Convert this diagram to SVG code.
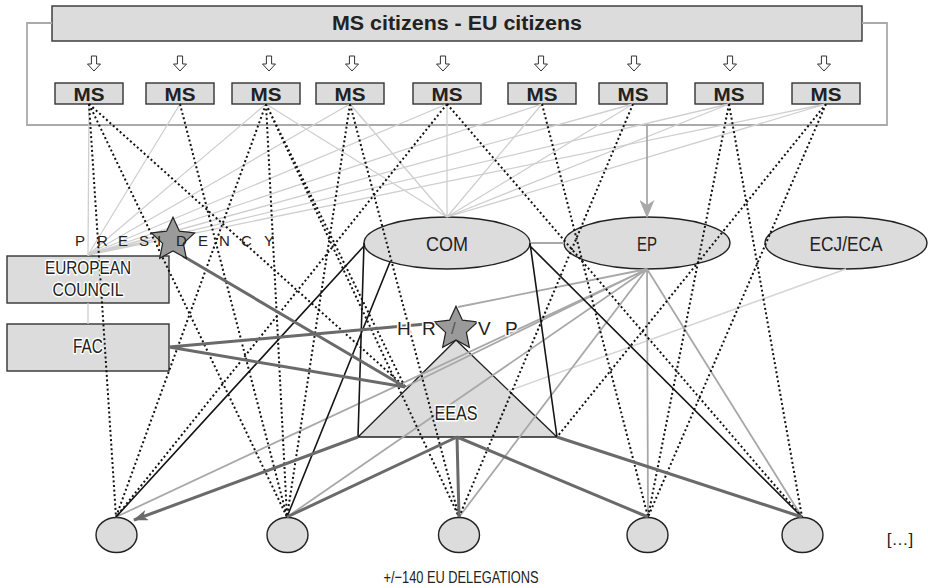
<svg xmlns="http://www.w3.org/2000/svg" xmlns:xlink="http://www.w3.org/1999/xlink" width="928" height="588" viewBox="0 0 928 588">
<style>
.box{fill:#dcdcdc;stroke:#333;stroke-width:1.4}
.nd{fill:#dcdcdc;stroke:#222;stroke-width:1.4}
.star{fill:#9a9a9a;stroke:#222;stroke-width:1.2}
.lg{stroke:#cfcfcf;stroke-width:1.3;fill:none}
.mg{stroke:#a8a8a8;stroke-width:1.8;fill:none}
.xg{stroke:#d6d6d6;stroke-width:1.6;fill:none}
.bk{stroke:#151515;stroke-width:1.6;fill:none}
.dg{stroke:#6a6a6a;stroke-width:3;fill:none}
.dt{stroke:#111;stroke-width:2;stroke-dasharray:2 2.6;fill:none}
.br{stroke:#aaa;stroke-width:1.8;fill:none}
text{font-family:"Liberation Sans",Arial,sans-serif;fill:#222}
.b{font-weight:bold}
.h{stroke:#fff;stroke-width:3;paint-order:stroke;stroke-linejoin:round}
</style>
<defs>
<polygon id="star5" points="0,-22.7 6.41,-8.82 21.59,-7.01 10.37,3.37 13.34,18.36 0,10.9 -13.34,18.36 -10.37,3.37 -21.59,-7.01 -6.41,-8.82"/>
<path id="harrow" d="M-2.6,0 H2.6 V8 H6.5 L0,15 L-6.5,8 H-2.6 Z" fill="#fff" stroke="#333" stroke-width="1"/>
<marker id="ahd" markerUnits="userSpaceOnUse" viewBox="0 0 15 11" refX="14" refY="5.5" markerWidth="15" markerHeight="11" orient="auto">
<path d="M0,0 L15,5.5 L0,11 L4,5.5 Z" fill="#6a6a6a"/>
</marker>
<marker id="ahg" markerUnits="userSpaceOnUse" viewBox="0 0 18 15" refX="17" refY="7.5" markerWidth="18" markerHeight="15" orient="auto">
<path d="M0,0 L18,7.5 L0,15 L5,7.5 Z" fill="#a8a8a8"/>
</marker>
</defs>

<!-- nodes (shapes) -->
<g id="banner"><rect class="box" x="52" y="6" width="810" height="35"/></g>
<g id="bracket"><path class="br" d="M52,23 H27 V125 H887 V23 H862"/></g>
<g id="citizen-arrows">
<use xlink:href="#harrow" x="94" y="56"/>
<use xlink:href="#harrow" x="180" y="56"/>
<use xlink:href="#harrow" x="269" y="56"/>
<use xlink:href="#harrow" x="352" y="56"/>
<use xlink:href="#harrow" x="443" y="56"/>
<use xlink:href="#harrow" x="541" y="56"/>
<use xlink:href="#harrow" x="634" y="56"/>
<use xlink:href="#harrow" x="730" y="56"/>
<use xlink:href="#harrow" x="824" y="56"/>
</g>
<g id="ms1"><rect class="box" x="55" y="83" width="68" height="21"/><text class="b" x="89" y="100.5" font-size="19" text-anchor="middle" textLength="31" lengthAdjust="spacingAndGlyphs">MS</text></g>
<g id="ms2"><rect class="box" x="146" y="83" width="68" height="21"/><text class="b" x="180" y="100.5" font-size="19" text-anchor="middle" textLength="31" lengthAdjust="spacingAndGlyphs">MS</text></g>
<g id="ms3"><rect class="box" x="232" y="83" width="68" height="21"/><text class="b" x="266" y="100.5" font-size="19" text-anchor="middle" textLength="31" lengthAdjust="spacingAndGlyphs">MS</text></g>
<g id="ms4"><rect class="box" x="316" y="83" width="68" height="21"/><text class="b" x="350" y="100.5" font-size="19" text-anchor="middle" textLength="31" lengthAdjust="spacingAndGlyphs">MS</text></g>
<g id="ms5"><rect class="box" x="413" y="83" width="68" height="21"/><text class="b" x="447" y="100.5" font-size="19" text-anchor="middle" textLength="31" lengthAdjust="spacingAndGlyphs">MS</text></g>
<g id="ms6"><rect class="box" x="508" y="83" width="68" height="21"/><text class="b" x="542" y="100.5" font-size="19" text-anchor="middle" textLength="31" lengthAdjust="spacingAndGlyphs">MS</text></g>
<g id="ms7"><rect class="box" x="599" y="83" width="68" height="21"/><text class="b" x="633" y="100.5" font-size="19" text-anchor="middle" textLength="31" lengthAdjust="spacingAndGlyphs">MS</text></g>
<g id="ms8"><rect class="box" x="695" y="83" width="68" height="21"/><text class="b" x="729" y="100.5" font-size="19" text-anchor="middle" textLength="31" lengthAdjust="spacingAndGlyphs">MS</text></g>
<g id="ms9"><rect class="box" x="792" y="83" width="68" height="21"/><text class="b" x="826" y="100.5" font-size="19" text-anchor="middle" textLength="31" lengthAdjust="spacingAndGlyphs">MS</text></g>

<g id="european-council"><rect class="box" x="7" y="256" width="162" height="47"/></g>
<g id="fac"><rect class="box" x="7" y="324" width="162" height="47"/></g>
<g id="com"><ellipse class="nd" cx="447" cy="243" rx="83" ry="26"/></g>
<g id="ep"><ellipse class="nd" cx="647" cy="243" rx="83" ry="26"/></g>
<g id="ecj-eca"><ellipse class="nd" cx="846" cy="243" rx="81" ry="26"/></g>
<g id="eeas"><polygon class="nd" points="456,340 557,437 358,437"/></g>
<g id="del1"><ellipse class="nd" cx="116.5" cy="535" rx="20.5" ry="17.5"/></g>
<g id="del2"><ellipse class="nd" cx="287.5" cy="535" rx="20.5" ry="17.5"/></g>
<g id="del3"><ellipse class="nd" cx="459" cy="535" rx="20.5" ry="17.5"/></g>
<g id="del4"><ellipse class="nd" cx="647.5" cy="535" rx="20.5" ry="17.5"/></g>
<g id="del5"><ellipse class="nd" cx="802.5" cy="535" rx="20.5" ry="17.5"/></g>

<!-- connectors -->
<g id="connectors">
<g id="light">
<path class="lg" d="M88,255 L180,104 M88,255 L266,104 M88,255 L350,104 M88,255 L447,104 M88,255 L542,104 M88,255 L633,104 M88,255 L729,104 M88,255 L826,104"/>
<path class="lg" d="M447,217 L266,104 M447,217 L350,104 M447,217 L447,104 M447,217 L542,104 M447,217 L633,104 M447,217 L729,104 M447,217 L826,104"/>
<path class="lg" d="M89,104 L88,256 M88,303 L88,324"/>
<path class="xg" d="M846,269 L508,391"/>
</g>
<g id="ep-links">
<path class="mg" d="M647,269 L458,307 M647,269 L405,387 M647,269 L116,517 M647,269 L287,517 M647,269 L459,517 M647,269 L648,517 M647,269 L802,517"/>
<path class="mg" d="M530,243 L564,243"/>
<line class="mg" x1="647" y1="125" x2="647" y2="217" marker-end="url(#ahg)"/>
</g>
<g id="dotted">
<path class="dt" d="M89,104 L116,517 M89,104 L287,517 M89,104 L405,387"/>
<path class="dt" d="M180,104 L287,517"/>
<path class="dt" d="M266,104 L116,517 M266,104 L287,517 M266,104 L459,517 M266,104 L405,387"/>
<path class="dt" d="M350,104 L287,517 M350,104 L459,517"/>
<path class="dt" d="M447,104 L116,517 M447,104 L802,517"/>
<path class="dt" d="M542,104 L648,517"/>
<path class="dt" d="M633,104 L459,517"/>
<path class="dt" d="M729,104 L648,517 M729,104 L802,517"/>
<path class="dt" d="M826,104 L648,517 M826,104 L557,437"/>
</g>
<g id="black">
<path class="bk" d="M364,243 L358,437 M530,243 L557,437 M364,246 L116,517 M390,262 L287,517 M530,246 L802,517"/>
</g>
<g id="dark">
<path class="dg" d="M183,256 L405,387 M169,347 L437,323 M169,347 L405,387"/>
<line class="dg" x1="358" y1="437" x2="134" y2="520" marker-end="url(#ahd)"/>
<path class="dg" d="M457,437 L287,517 M457,437 L459,517 M457,437 L648,517 M557,437 L802,517"/>
</g>
</g>

<g id="stars">
<use xlink:href="#star5" class="star" x="173" y="240"/>
<use xlink:href="#star5" class="star" x="456" y="329"/>
</g>

<!-- labels -->
<g id="labels">
<text id="banner-label" class="b" x="457" y="30" font-size="20" text-anchor="middle" textLength="250" lengthAdjust="spacingAndGlyphs">MS citizens - EU citizens</text>
<text id="presidency-label" font-size="15" x="75 97 118 139 157 176 198 219 241 264" y="246">PRESIDENCY</text>
<text id="ec-label" class="h" font-size="19" text-anchor="middle"><tspan x="88" y="274" textLength="86" lengthAdjust="spacingAndGlyphs">EUROPEAN</tspan><tspan x="88" y="296" textLength="71" lengthAdjust="spacingAndGlyphs">COUNCIL</tspan></text>
<text id="fac-label" class="h" x="88" y="353" font-size="20" text-anchor="middle" textLength="30" lengthAdjust="spacingAndGlyphs">FAC</text>
<text id="com-label" x="447" y="250.5" font-size="21" text-anchor="middle" textLength="42" lengthAdjust="spacingAndGlyphs">COM</text>
<text id="ep-label" x="647" y="250.5" font-size="21" text-anchor="middle" textLength="20" lengthAdjust="spacingAndGlyphs">EP</text>
<text id="ecj-label" x="846" y="250.5" font-size="21" text-anchor="middle" textLength="73" lengthAdjust="spacingAndGlyphs">ECJ/ECA</text>
<text id="hrvp-label" class="h" font-size="19" x="397 422" y="335">HR</text>
<text id="hrvp-slash" x="451" y="334" font-size="17" style="fill:#555">/</text>
<text id="hrvp-label2" class="h" font-size="19" x="478 505" y="335">VP</text>
<text id="eeas-label" class="h" x="456" y="420" font-size="20" text-anchor="middle" textLength="43" lengthAdjust="spacingAndGlyphs">EEAS</text>
<text id="more-label" x="900" y="545" font-size="17" text-anchor="middle">[…]</text>
<text id="delegations-label" x="461" y="583" font-size="17" text-anchor="middle" textLength="155" lengthAdjust="spacingAndGlyphs">+/−140 EU DELEGATIONS</text>
</g>
</svg>
